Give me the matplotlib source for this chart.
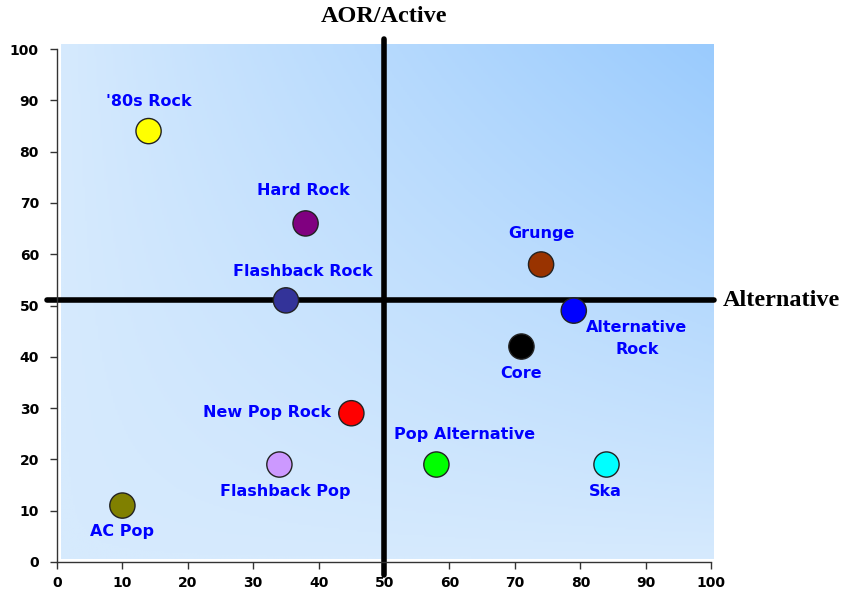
#!/usr/bin/env python3
"""Perceptual map of rock formats: AOR/Active vs Alternative."""

import numpy as np
import matplotlib
matplotlib.use("Agg")
import matplotlib.pyplot as plt
from matplotlib.colors import LinearSegmentedColormap

# ---------------------------------------------------------------------------
# Data
# ---------------------------------------------------------------------------

formats = [
    "'80s Rock", "Hard Rock", "Flashback Rock", "Grunge", "Alternative\nRock",
    "Core", "New Pop Rock", "Pop Alternative", "Ska", "Flashback Pop", "AC Pop",
]
alternative = [14, 38, 35, 74, 79, 71, 45, 58, 84, 34, 10]
aor_active = [84, 66, 51, 58, 49, 42, 29, 19, 19, 19, 11]
dot_colors = [
    "#FFFF00", "#800080", "#333399", "#993300", "#0000FF",
    "#000000", "#FF0000", "#00FF00", "#00FFFF", "#CC99FF", "#808000",
]
x_split = 50
y_split = 51
ticks = [0, 10, 20, 30, 40, 50, 60, 70, 80, 90, 100]

# label offsets in pixels (dx, dy), relative to the dot
label_offsets = [
    (0, 30), (-2, 33), (17, 29), (0, 31), (63, -28),
    (0, -27), (-84, 1), (28, 30), (-1, -27), (6, -27), (0, -26),
]

# ---------------------------------------------------------------------------
# Plot
# ---------------------------------------------------------------------------

fig = plt.figure(figsize=(8.43, 6.03), dpi=100)
ax = fig.add_axes([0.0676, 0.068, 0.776, 0.8507])
ax.set_xlim(0, 100)
ax.set_ylim(0, 100)

# gradient background: light bottom-left to darker top-right
u = np.linspace(0, 1, 300)
v = np.linspace(0, 1, 300)
U, V = np.meshgrid(u, v)
grad = (U * V) ** 0.9
cmap = LinearSegmentedColormap.from_list("bg", ["#D6EAFD", "#9ACBFE"])
ax.imshow(grad, cmap=cmap, origin="lower", extent=(0.6, 100.3, 0.5, 100.8),
          aspect="auto", zorder=0, clip_on=False)

ax.plot([x_split, x_split], [-2.5, 102], color="black", lw=4,
        solid_capstyle="round", clip_on=False, zorder=2)
ax.plot([-1.5, 100.4], [y_split, y_split], color="black", lw=4,
        solid_capstyle="round", clip_on=False, zorder=2)

ax.scatter(alternative, aor_active, s=330, c=dot_colors, edgecolors="#222222",
           linewidths=1, zorder=3, clip_on=False)

for name, x, y, (dx, dy) in zip(formats, alternative, aor_active, label_offsets):
    ax.annotate(name, (x, y), xytext=(dx * 0.72, dy * 0.72), textcoords="offset points",
                ha="center", va="center", color="#0000FF", fontsize=11.5,
                fontweight="bold", family="DejaVu Sans", zorder=4,
                linespacing=1.55)

ax.text(50, 106.3, "AOR/Active", ha="center", va="center", fontsize=17.5,
        fontweight="bold", family="Liberation Serif", clip_on=False)
ax.text(101.8, y_split, "Alternative", ha="left", va="center", fontsize=17.5,
        fontweight="bold", family="Liberation Serif", clip_on=False)

for side in ("top", "right"):
    ax.spines[side].set_visible(False)
for side in ("left", "bottom"):
    ax.spines[side].set_color("#333333")
    ax.spines[side].set_linewidth(1)
ax.set_xticks(ticks)
ax.set_yticks(ticks)
ax.tick_params(direction="out", length=5, color="#333333", width=1,
               labelsize=10)
for lab in ax.get_xticklabels() + ax.get_yticklabels():
    lab.set_fontweight("bold")
    lab.set_family("DejaVu Sans")
ax.tick_params(axis="x", pad=5)
ax.tick_params(axis="y", pad=8)

fig.savefig("out.png", dpi=100)
